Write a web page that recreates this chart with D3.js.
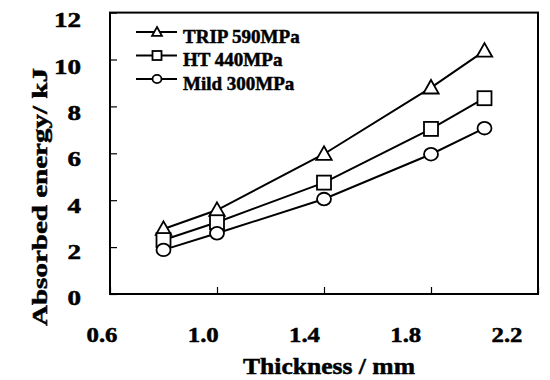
<!DOCTYPE html>
<html>
<head>
<meta charset="utf-8">
<script src="https://cdn.jsdelivr.net/npm/d3@7"></script>
<style>
  body { margin: 0; background: #fff; }
</style>
</head>
<body>
<div id="chart"></div>
<script>
// Chart data
const thickness = [0.8, 1.0, 1.4, 1.8, 2.0];
const tripValues = [2.77, 3.58, 5.97, 8.8, 10.37];
const htValues = [2.3, 3.06, 4.75, 7.04, 8.35];
const mildValues = [1.88, 2.59, 4.05, 5.96, 7.07];
const seriesNames = ['TRIP 590MPa', 'HT 440MPa', 'Mild 300MPa'];
const seriesShapes = ['triangle', 'square', 'circle'];
const xTicks = [0.6, 1.0, 1.4, 1.8, 2.2];
const yTicks = [0, 2, 4, 6, 8, 10, 12];

const width = 550;
const height = 380;
const margin = { top: 12.6, right: 12, bottom: 86, left: 110 };
const serif = '"Liberation Serif", "Times New Roman", Times, serif';

const svg = d3.select('#chart')
  .append('svg')
  .attr('width', width)
  .attr('height', height)
  .attr('font-family', serif)
  .attr('font-weight', 'bold');

const x = d3.scaleLinear().domain([0.6, 2.2]).range([margin.left, width - margin.right]);
const y = d3.scaleLinear().domain([0, 12]).range([height - margin.bottom, margin.top]);
// tick labels in the scan sit a little off their ticks
const xLabel = d3.scaleLinear().domain([0.6, 2.2]).range([102, 507]);
const yLabel = d3.scaleLinear().domain([0, 12]).range([298, 20]);

// the scanned text is heavy and a bit wide
function label(sel, size) {
  return sel
    .attr('font-family', serif)
    .attr('font-weight', 'bold')
    .attr('font-size', size)
    .attr('fill', '#000')
    .attr('stroke', '#000')
    .attr('stroke-width', 0.5);
}

// Frame
svg.append('rect')
  .attr('x', x(0.6))
  .attr('y', y(12))
  .attr('width', x(2.2) - x(0.6))
  .attr('height', y(0) - y(12))
  .attr('fill', 'none')
  .attr('stroke', '#000')
  .attr('stroke-width', 2);

// Inward ticks
svg.append('g')
  .attr('transform', 'translate(0,' + y(0) + ')')
  .call(d3.axisBottom(x).tickValues(xTicks).tickSize(-7).tickFormat(''))
  .call(g => g.select('.domain').remove())
  .call(g => g.selectAll('line').attr('stroke-width', 1.2));

svg.append('g')
  .attr('transform', 'translate(' + x(0.6) + ',0)')
  .call(d3.axisLeft(y).tickValues(yTicks).tickSize(-7).tickFormat(''))
  .call(g => g.select('.domain').remove())
  .call(g => g.selectAll('line').attr('stroke-width', 1.2));

// Tick labels
svg.append('g').selectAll('text')
  .data(xTicks)
  .enter()
  .append('text')
  .call(label, 21)
  .attr('x', d => xLabel(d))
  .attr('y', 342)
  .attr('text-anchor', 'middle')
  .attr('textLength', 31)
  .attr('lengthAdjust', 'spacingAndGlyphs')
  .text(d => d3.format('.1f')(d));

svg.append('g').selectAll('text')
  .data(yTicks)
  .enter()
  .append('text')
  .call(label, 21)
  .attr('x', 81)
  .attr('y', d => yLabel(d))
  .attr('dy', '0.35em')
  .attr('text-anchor', 'end')
  .attr('textLength', d => String(d).length * 13.5)
  .attr('lengthAdjust', 'spacingAndGlyphs')
  .text(d => d);

// Axis titles
svg.append('text')
  .call(label, 23)
  .attr('x', 329)
  .attr('y', 374)
  .attr('text-anchor', 'middle')
  .attr('textLength', 172)
  .attr('lengthAdjust', 'spacingAndGlyphs')
  .text('Thickness / mm');

svg.append('text')
  .call(label, 22)
  .attr('transform', 'translate(47,197) rotate(-90)')
  .attr('text-anchor', 'middle')
  .attr('textLength', 258)
  .attr('lengthAdjust', 'spacingAndGlyphs')
  .text('Absorbed energy/ kJ');

// Marker helper
function marker(sel, shape, s) {
  if (shape === 'triangle') {
    sel.append('path')
      .attr('d', 'M0,' + (-s * 0.55) + 'L' + (s * 0.55) + ',' + (s * 0.42) + 'L' + (-s * 0.55) + ',' + (s * 0.42) + 'Z');
  } else if (shape === 'square') {
    sel.append('rect')
      .attr('x', -s / 2).attr('y', -s / 2)
      .attr('width', s).attr('height', s);
  } else {
    sel.append('ellipse')
      .attr('rx', s / 2).attr('ry', s * 0.45);
  }
  sel.selectAll('path, rect, ellipse')
    .attr('fill', '#fff')
    .attr('stroke', '#000')
    .attr('stroke-width', 1.8);
}

const allValues = [tripValues, htValues, mildValues];
const line = d3.line()
  .x((d, i) => x(thickness[i]))
  .y(d => y(d));

allValues.forEach(vals => {
  svg.append('path')
    .attr('d', line(vals))
    .attr('fill', 'none')
    .attr('stroke', '#000')
    .attr('stroke-width', 2);
});

allValues.forEach((vals, k) => {
  svg.append('g').selectAll('g')
    .data(vals)
    .enter()
    .append('g')
    .attr('transform', (d, i) => 'translate(' + x(thickness[i]) + ',' + y(d) + ')')
    .each(function () { marker(d3.select(this), seriesShapes[k], 14); });
});

// Legend
const legend = svg.append('g');
seriesNames.forEach((name, k) => {
  const ly = 32 + k * 23.5;
  legend.append('line')
    .attr('x1', 136).attr('x2', 177)
    .attr('y1', ly).attr('y2', ly)
    .attr('stroke', '#000')
    .attr('stroke-width', 2);
  const m = legend.append('g').attr('transform', 'translate(157,' + ly + ')');
  marker(m, seriesShapes[k], 9);
  legend.append('text')
    .call(label, 19)
    .attr('x', 183)
    .attr('y', ly + 10.5)
    .text(name);
});
</script>
</body>
</html>
